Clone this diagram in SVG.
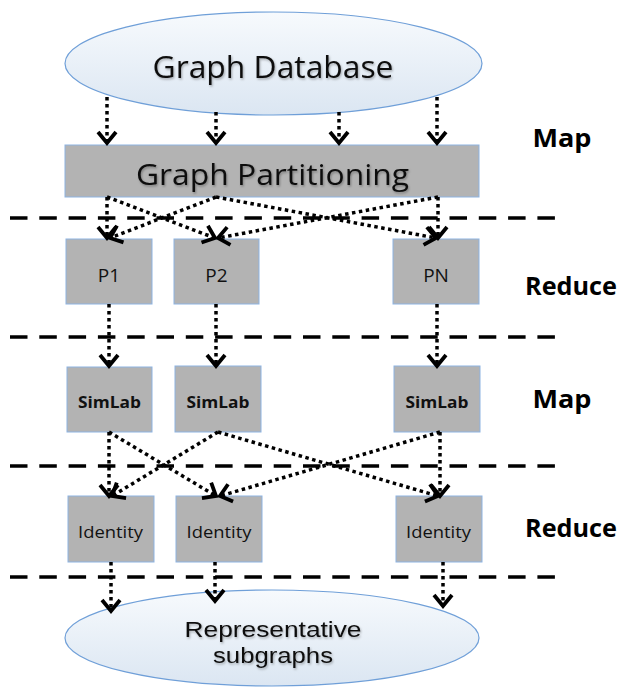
<svg xmlns="http://www.w3.org/2000/svg" width="621" height="687" viewBox="0 0 621 687">
<style>
.box{fill:#b3b3b3;stroke:#8db3e2;stroke-width:1}
.ell{fill:url(#eg);stroke:#6f9fd8;stroke-width:1.2}
.sep{stroke:#000;stroke-width:3.5;stroke-dasharray:17.5 11.8;fill:none}
.e{stroke:#000;stroke-width:3.5;stroke-dasharray:3.5 3.5;fill:none;marker-end:url(#ah)}
.t{font-family:"Open Sans","Liberation Sans",sans-serif;fill:#111;text-anchor:middle}
.t2{font-family:"Liberation Sans","Open Sans",sans-serif;fill:#111;text-anchor:middle}
.b{font-weight:bold}
.lab{font-family:"Open Sans","Liberation Sans",sans-serif;font-weight:bold;fill:#000;text-anchor:middle}
</style>
<defs>
<linearGradient id="eg" x1="0" y1="0" x2="0" y2="1">
<stop offset="0" stop-color="#f7fafd"/>
<stop offset="1" stop-color="#dbe6f2"/>
</linearGradient>
<filter id="sh" x="-10%" y="-20%" width="120%" height="140%">
<feDropShadow dx="1" dy="1.5" stdDeviation="1" flood-color="#000" flood-opacity="0.3"/>
</filter>
<marker id="ah" markerUnits="userSpaceOnUse" markerWidth="32" markerHeight="32" viewBox="-16 -16 32 32" refX="0" refY="0" orient="auto">
<path d="M-11,-9 L0,0 L-11,9" fill="none" stroke="#000" stroke-width="3.8"/>
</marker>
</defs>

<g id="separators">
<line class="sep" x1="10" y1="218" x2="556" y2="218"/>
<line class="sep" x1="10" y1="337" x2="556" y2="337"/>
<line class="sep" x1="10" y1="466" x2="556" y2="466"/>
<line class="sep" x1="10" y1="577" x2="556" y2="577"/>
</g>

<g id="graph-database">
<ellipse class="ell" cx="273.5" cy="63.5" rx="208.5" ry="51.5"/>
<text class="t" x="273" y="78" font-size="31" textLength="241" lengthAdjust="spacingAndGlyphs" filter="url(#sh)">Graph Database</text>
</g>

<g id="graph-partitioning">
<rect class="box" x="65" y="145" width="414" height="52"/>
<text class="t" x="272.5" y="185" font-size="29" textLength="273" lengthAdjust="spacingAndGlyphs" filter="url(#sh)">Graph Partitioning</text>
</g>

<g id="p1"><rect class="box" x="66" y="239" width="86" height="65"/><text class="t" x="109" y="282" font-size="19">P1</text></g>
<g id="p2"><rect class="box" x="174" y="239" width="85" height="65"/><text class="t" x="216.5" y="282" font-size="19">P2</text></g>
<g id="pn"><rect class="box" x="393" y="239" width="86" height="65"/><text class="t" x="436" y="282" font-size="19">PN</text></g>

<g id="simlab1"><rect class="box" x="67" y="367" width="85" height="65"/><text class="t b" x="109.5" y="408" font-size="16.5" textLength="63" lengthAdjust="spacingAndGlyphs">SimLab</text></g>
<g id="simlab2"><rect class="box" x="175" y="366" width="86" height="66"/><text class="t b" x="218" y="408" font-size="16.5" textLength="63" lengthAdjust="spacingAndGlyphs">SimLab</text></g>
<g id="simlab3"><rect class="box" x="394" y="366" width="86" height="66"/><text class="t b" x="437" y="408" font-size="16.5" textLength="63" lengthAdjust="spacingAndGlyphs">SimLab</text></g>

<g id="identity1"><rect class="box" x="68" y="496" width="86" height="66"/><text class="t" x="110.5" y="538" font-size="17" textLength="65" lengthAdjust="spacingAndGlyphs">Identity</text></g>
<g id="identity2"><rect class="box" x="176" y="496" width="86" height="66"/><text class="t" x="219" y="538" font-size="17" textLength="65" lengthAdjust="spacingAndGlyphs">Identity</text></g>
<g id="identity3"><rect class="box" x="396" y="496" width="86" height="66"/><text class="t" x="438.5" y="538" font-size="17" textLength="65" lengthAdjust="spacingAndGlyphs">Identity</text></g>

<g id="representative-subgraphs">
<ellipse class="ell" cx="272" cy="638" rx="207" ry="48"/>
<text class="t2" x="273" y="637" font-size="22" textLength="177" lengthAdjust="spacingAndGlyphs" filter="url(#sh)">Representative</text>
<text class="t2" x="273" y="663" font-size="22" textLength="120" lengthAdjust="spacingAndGlyphs" filter="url(#sh)">subgraphs</text>
</g>

<g id="phase-labels">
<text class="lab" x="562" y="147" font-size="25" textLength="59" lengthAdjust="spacingAndGlyphs">Map</text>
<text class="lab" x="571" y="295" font-size="25" textLength="92" lengthAdjust="spacingAndGlyphs">Reduce</text>
<text class="lab" x="562" y="408" font-size="25" textLength="59" lengthAdjust="spacingAndGlyphs">Map</text>
<text class="lab" x="571" y="537" font-size="25" textLength="92" lengthAdjust="spacingAndGlyphs">Reduce</text>
</g>

<g id="connectors">
<line class="e" x1="107" y1="97" x2="107" y2="143"/>
<line class="e" x1="216" y1="112" x2="216" y2="143"/>
<line class="e" x1="339" y1="112" x2="339" y2="143"/>
<line class="e" x1="437" y1="97" x2="437" y2="143"/>

<line class="e" x1="107" y1="197" x2="107" y2="238"/>
<line class="e" x1="107" y1="197" x2="215" y2="238"/>
<line class="e" x1="216" y1="197" x2="110" y2="238"/>
<line class="e" x1="216" y1="197" x2="436" y2="238"/>
<line class="e" x1="438" y1="197" x2="438" y2="238"/>
<line class="e" x1="438" y1="197" x2="218" y2="238"/>

<line class="e" x1="109" y1="304" x2="109" y2="366"/>
<line class="e" x1="216" y1="304" x2="216" y2="366"/>
<line class="e" x1="437" y1="304" x2="437" y2="366"/>

<line class="e" x1="109" y1="432" x2="109" y2="496"/>
<line class="e" x1="109" y1="432" x2="216" y2="496"/>
<line class="e" x1="218" y1="432" x2="112" y2="496"/>
<line class="e" x1="218" y1="432" x2="438" y2="496"/>
<line class="e" x1="440" y1="432" x2="440" y2="496"/>
<line class="e" x1="440" y1="432" x2="220" y2="496"/>

<line class="e" x1="111" y1="562" x2="111" y2="611"/>
<line class="e" x1="215" y1="562" x2="215" y2="601"/>
<line class="e" x1="443" y1="562" x2="443" y2="606"/>
</g>
</svg>
